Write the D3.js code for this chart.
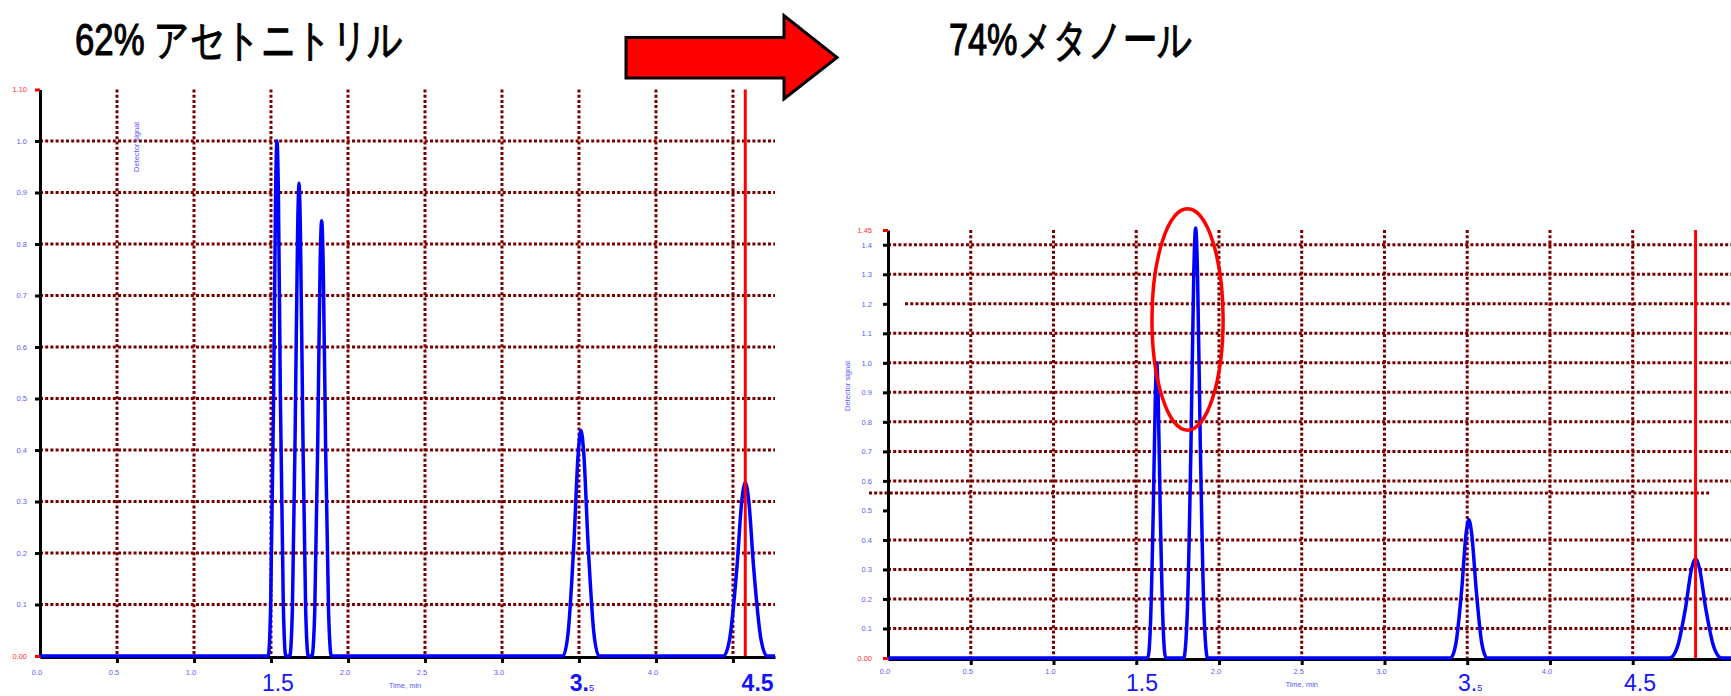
<!DOCTYPE html>
<meta charset="utf-8">
<style>
  body { margin: 0; background: #fff; }
  svg text { font-family: "Liberation Sans", Arial, sans-serif; }
</style>
<svg width="1731" height="696"></svg>
<script src="https://d3js.org/d3.v7.min.js"></script>
<script>

var titleLeft = "62% アセトニトリル",
    titleRight = "74%メタノール";

// chromatograms: [time (min), detector signal]
var traceLeft = [
  [0, 0], [1.482, 0], [1.498, 0.10], [1.517, 0.50], [1.530, 0.90], [1.539, 1.00], [1.548, 0.90], [1.561, 0.50], [1.580, 0.10], [1.596, 0],
  [1.622, 0], [1.639, 0.092], [1.658, 0.459], [1.673, 0.826], [1.682, 0.918], [1.691, 0.826], [1.706, 0.459], [1.725, 0.092], [1.742, 0],
  [1.766, 0], [1.784, 0.085], [1.804, 0.423], [1.819, 0.761], [1.829, 0.845], [1.839, 0.761], [1.854, 0.423], [1.874, 0.085], [1.892, 0],
  [3.396, 0], [3.429, 0.044], [3.467, 0.219], [3.495, 0.394], [3.513, 0.438], [3.531, 0.394], [3.559, 0.219], [3.597, 0.044], [3.630, 0],
  [4.439, 0], [4.479, 0.034], [4.525, 0.169], [4.558, 0.303], [4.580, 0.337], [4.602, 0.303], [4.635, 0.169], [4.681, 0.034], [4.721, 0],
  [4.773, 0]
];

var traceRight = [
  [0, 0], [1.570, 0], [1.585, 0.10], [1.603, 0.50], [1.616, 0.90], [1.624, 1.00], [1.632, 0.90], [1.645, 0.50], [1.663, 0.10], [1.678, 0],
  [1.787, 0], [1.808, 0.146], [1.831, 0.729], [1.848, 1.311], [1.859, 1.457], [1.870, 1.311], [1.887, 0.729], [1.910, 0.146], [1.931, 0],
  [3.399, 0], [3.431, 0.047], [3.467, 0.234], [3.493, 0.421], [3.510, 0.468], [3.527, 0.421], [3.554, 0.234], [3.589, 0.047], [3.621, 0],
  [4.724, 0], [4.768, 0.034], [4.819, 0.169], [4.856, 0.303], [4.880, 0.337], [4.904, 0.303], [4.941, 0.169], [4.992, 0.034], [5.036, 0],
  [5.094, 0]
];

var timeTicks = [0.5, 1.0, 1.5, 2.0, 2.5, 3.0, 3.5, 4.0, 4.5];
var timeLabels = [0.0, 0.5, 1.0, 2.0, 2.5, 3.0, 4.0];
var bigLabels = ["1.5", "3.", "4.5"];
var bigAtLeft = [1.545, 3.44, 4.66],
    bigAtRight = [1.535, 3.444, 4.544];

var yTicksLeft = [0.1, 0.2, 0.3, 0.4, 0.5, 0.6, 0.7, 0.8, 0.9, 1.0];
var yTicksRight = [0.1, 0.2, 0.3, 0.4, 0.5, 0.6, 0.7, 0.8, 0.9, 1.0, 1.1, 1.2, 1.3, 1.4];
var gridLeft = yTicksLeft;
var gridRight = [0.1, 0.2, 0.3, 0.4, 0.6, 0.7, 0.8, 0.9, 1.0, 1.1, 1.2, 1.3, 1.4];
var strayGridRight = 0.559;

var markLeft = 4.58, markRight = 4.88;
var yMaxLeft = 1.10, yMaxRight = 1.45;
var tEndLeft = 4.773, tEndRight = 5.094;

var svg = d3.select("svg");

var gridColor = "#7a0000",
    smallBlue = "#5a5aff",
    bigBlue = "#1414ff";

function chart(c) {
  var x = d3.scaleLinear().domain([0, c.tEnd]).range([c.left, c.right]);
  var y = d3.scaleLinear().domain([0, c.yMax]).range([c.bottom, c.top]);
  var g = svg.append("g");

  // horizontal dotted grid
  g.selectAll(".hgrid")
    .data(c.grid)
    .enter().append("line")
      .attr("x1", function(d) { return d == c.lateGrid ? x(c.lateStart) : x(0); })
      .attr("x2", x(c.tEnd))
      .attr("y1", function(d) { return y(d); })
      .attr("y2", function(d) { return y(d); })
      .attr("stroke", gridColor)
      .attr("stroke-width", 3)
      .attr("stroke-dasharray", "3,2.2");

  if (c.stray != null) {
    g.append("line")
      .attr("x1", x(-0.115)).attr("x2", x(4.967))
      .attr("y1", y(c.stray)).attr("y2", y(c.stray))
      .attr("stroke", gridColor)
      .attr("stroke-width", 3)
      .attr("stroke-dasharray", "3,2.2");
  }

  // vertical dotted grid
  g.selectAll(".vgrid")
    .data(timeTicks)
    .enter().append("line")
      .attr("x1", function(d) { return x(d); })
      .attr("x2", function(d) { return x(d); })
      .attr("y1", y(c.yMax))
      .attr("y2", y(0))
      .attr("stroke", gridColor)
      .attr("stroke-width", 3)
      .attr("stroke-dasharray", "3,2.2");

  // x axis
  var xa = g.append("g")
      .attr("transform", "translate(0," + (y(0) + 1) + ")")
      .call(d3.axisBottom(x).tickValues(timeTicks).tickSize(6).tickSizeOuter(0).tickFormat(""));
  xa.select(".domain").attr("stroke", "#000").attr("stroke-width", 3);
  xa.selectAll(".tick line").attr("stroke", "#000").attr("stroke-width", 3);

  g.selectAll(".tlab")
    .data(timeLabels)
    .enter().append("text")
      .attr("x", function(d) { return x(d) - 3; })
      .attr("y", c.labelY)
      .attr("text-anchor", "middle")
      .attr("font-size", 7.5)
      .attr("fill", smallBlue)
      .text(function(d) { return d3.format(".1f")(d); });

  g.append("text")
      .attr("x", x(c.timeTitleAt))
      .attr("y", c.labelY + 13)
      .attr("text-anchor", "middle")
      .attr("font-size", 7.5)
      .attr("fill", smallBlue)
      .text("Time, min");

  // big hand-made labels under the axis
  bigLabels.forEach(function(t, i) {
    var tx = g.append("text")
        .attr("x", x(c.bigAt[i]))
        .attr("y", c.bigY)
        .attr("text-anchor", t == "3." ? "start" : "middle")
        .attr("font-size", 23)
        .attr("font-weight", c.bold[i] ? "bold" : "normal")
        .attr("fill", bigBlue)
        .text(t);
    if (t == "3.") {
      tx.append("tspan").attr("font-size", 9).attr("font-weight", "normal").text("5");
    }
  });

  // y axis
  var ticks = [0].concat(c.yTicks).concat([c.yMax]);
  var ya = g.append("g")
      .attr("transform", "translate(" + c.left + ",0)")
      .call(d3.axisLeft(y).tickValues(ticks).tickSize(5).tickSizeOuter(0).tickPadding(c.pad)
        .tickFormat(function(d) { return (d == 0 || d == c.yMax) ? d3.format(".2f")(d) : d3.format(".1f")(d); }));
  ya.select(".domain").attr("stroke", "#000").attr("stroke-width", 3);
  ya.selectAll(".tick line")
      .attr("stroke", function(d) { return (d == 0 || d == c.yMax) ? "#ff0000" : "#000"; })
      .attr("stroke-width", 3);
  ya.selectAll(".tick text")
      .attr("font-family", "Liberation Sans, Arial, sans-serif")
      .attr("font-size", 7.5)
      .attr("fill", function(d) { return (d == 0 || d == c.yMax) ? "#ff3030" : smallBlue; });

  g.append("text")
      .attr("transform", "translate(" + c.sigX + "," + c.sigY + ") rotate(-90)")
      .attr("text-anchor", "middle")
      .attr("font-size", 7.5)
      .attr("fill", smallBlue)
      .text("Detector signal");

  // chromatogram
  var line = d3.line()
      .x(function(d) { return x(d[0]); })
      .y(function(d) { return y(d[1]); })
      .curve(d3.curveMonotoneX);

  g.append("path")
      .datum(c.trace)
      .attr("d", line)
      .attr("fill", "none")
      .attr("stroke", "#0000ff")
      .attr("stroke-width", 3.5)
      .attr("stroke-linejoin", "round");

  // red marker
  g.append("line")
      .attr("x1", x(c.mark)).attr("x2", x(c.mark))
      .attr("y1", y(c.yMax)).attr("y2", y(0))
      .attr("stroke", "#ff0000")
      .attr("stroke-width", 3);

  return { x: x, y: y, g: g };
}

chart({
  left: 40, right: 775, top: 89.5, bottom: 656,
  tEnd: tEndLeft, yMax: yMaxLeft,
  yTicks: yTicksLeft, grid: gridLeft,
  trace: traceLeft, mark: markLeft,
  bigAt: bigAtLeft, bold: [false, true, true],
  labelY: 675, bigY: 691, timeTitleAt: 2.37, pad: 8,
  sigX: 139, sigY: 147
});

var r = chart({
  left: 888, right: 1731, top: 230, bottom: 658,
  tEnd: tEndRight, yMax: yMaxRight,
  yTicks: yTicksRight, grid: gridRight, lateGrid: 1.2, lateStart: 0.103,
  stray: strayGridRight,
  trace: traceRight, mark: markRight,
  bigAt: bigAtRight, bold: [false, false, false],
  labelY: 674, bigY: 691, timeTitleAt: 2.5, pad: 11,
  sigX: 850, sigY: 386
});

// highlight round the second peak
r.g.append("ellipse")
    .attr("cx", r.x(1.81))
    .attr("cy", r.y(1.147))
    .attr("rx", r.x(1.81 + 0.215) - r.x(1.81))
    .attr("ry", r.y(1.147 - 0.375) - r.y(1.147))
    .attr("fill", "none")
    .attr("stroke", "#ff0000")
    .attr("stroke-width", 3.5);

// titles (regular face thickened a little with a stroke)
svg.append("text")
    .attr("x", 75).attr("y", 55)
    .attr("font-family", "Noto Sans CJK JP")
    .attr("font-size", 44)
    .attr("stroke", "#000")
    .attr("stroke-width", 1.1)
    .attr("textLength", 328)
    .attr("lengthAdjust", "spacingAndGlyphs")
    .text(titleLeft);

svg.append("text")
    .attr("x", 949).attr("y", 55)
    .attr("font-family", "Noto Sans CJK JP")
    .attr("font-size", 44)
    .attr("stroke", "#000")
    .attr("stroke-width", 1.1)
    .attr("textLength", 243)
    .attr("lengthAdjust", "spacingAndGlyphs")
    .text(titleRight);

// big arrow between the two
svg.append("path")
    .attr("d", "M626,37.5 L784,37.5 L784,15.5 L837,57.5 L784,99 L784,78 L626,78 Z")
    .attr("fill", "#ff0000")
    .attr("stroke", "#000")
    .attr("stroke-width", 3)
    .attr("stroke-linejoin", "miter");

</script>
